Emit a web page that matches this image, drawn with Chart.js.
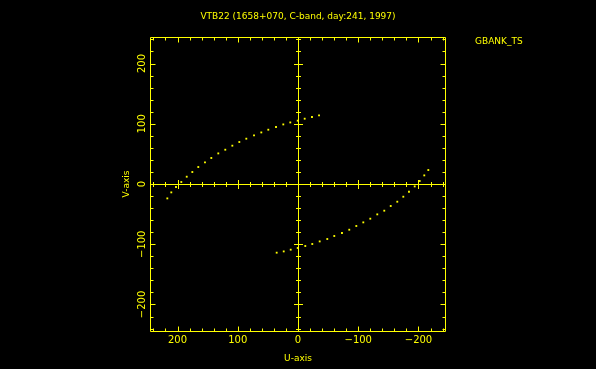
<!DOCTYPE html>
<html>
<head>
<meta charset="utf-8">
<script src="https://cdn.jsdelivr.net/npm/chart.js@4.4.0/dist/chart.umd.min.js"></script>
<style>
  html, body { margin: 0; padding: 0; background: #000; }
  #wrap { width: 596px; height: 369px; }
</style>
</head>
<body>
<div id="wrap"><canvas id="uvChart"></canvas></div>
<script>
const YEL = '#ffff00';
const FONT = 'DejaVu Sans';

// DADOS - arco superior (u, v em k-lambda)
const uArc1 = [216.9, 210.3, 202.5, 193.7, 184.7, 175.4, 165.5, 154.4, 143.9, 132.3, 120.7, 109.0,
               97.4, 85.8, 73.0, 60.9, 49.3, 36.5, 24.4, 12.8, 0.5, -11.1, -23.2, -34.9];
const vArc1 = [-23.9, -13.9, -5.0, 3.3, 12.1, 19.9, 28.2, 35.9, 43.2, 50.8, 56.9, 63.6,
               69.7, 75.2, 80.7, 85.6, 90.1, 94.6, 98.9, 102.2, 105.1, 108.4, 111.2, 113.9];
// arco inferior
const uArc2 = [35.4, 23.7, 12.1, 0.5, -12.1, -23.7, -36.0, -48.6, -60.2, -73.0, -85.1, -96.8,
               -108.4, -120.0, -131.6, -143.2, -153.9, -164.8, -174.8, -184.2, -193.7, -202.0, -209.6, -216.3];
const vArc2 = [-114.0, -111.9, -109.0, -106.2, -102.9, -99.6, -95.3, -91.3, -86.3, -81.3, -75.9, -69.7,
               -63.7, -57.6, -50.4, -44.3, -36.5, -29.4, -21.1, -12.8, -4.0, 5.0, 14.3, 23.2];

const axisMin = -244;
const axisMax = 244;
const tickVals = [-200, -100, 0, 100, 200];
const minorStep = 20;
const majorStep = 100;

const titleText = 'VTB22 (1658+070, C-band, day:241, 1997)';
const sourceText = 'GBANK_TS';

function toPoints(us, vs) { return us.map((u, i) => ({ x: u, y: vs[i] })); }
function fmt(v) { return v < 0 ? '\u2212' + Math.abs(v) : String(v); }

// eixos com ticks (moldura + cruz no zero)
const framePlugin = {
    id: 'frame',
    beforeDraw(chart) {
        const c = chart.ctx;
        c.save();
        c.fillStyle = '#000';
        c.fillRect(0, 0, chart.width, chart.height);
        c.restore();
    },
    beforeDatasetsDraw(chart) {
        const c = chart.ctx;
        const a = chart.chartArea;
        const xs = chart.scales.x, ys = chart.scales.y;
        const L = Math.round(a.left) - 0.5, R = Math.round(a.right) + 0.5;
        const T = Math.round(a.top) + 0.5, B = Math.round(a.bottom) + 0.5;
        const x0 = Math.round(xs.getPixelForValue(0)) + 0.5;
        const y0 = Math.round(ys.getPixelForValue(0)) + 0.5;
        c.save();
        c.strokeStyle = YEL;
        c.lineWidth = 1;
        c.beginPath();
        c.rect(L, T, R - L, B - T);
        c.moveTo(L, y0); c.lineTo(R, y0);
        c.moveTo(x0, T); c.lineTo(x0, B);
        for (let v = -240; v <= 240; v += minorStep) {
            const major = v % majorStep === 0;
            const fl = major ? 5 : 3;
            const hl = major ? 4.5 : 2.5;
            const px = Math.round(xs.getPixelForValue(v)) + 0.5;
            const py = Math.round(ys.getPixelForValue(v)) + 0.5;
            // moldura
            c.moveTo(px, B); c.lineTo(px, B - fl);
            c.moveTo(px, T); c.lineTo(px, T + fl);
            c.moveTo(L, py); c.lineTo(L + fl, py);
            c.moveTo(R, py); c.lineTo(R - fl, py);
            // cruz
            c.moveTo(px, y0 - hl); c.lineTo(px, y0 + hl);
            c.moveTo(x0 - hl, py); c.lineTo(x0 + hl, py);
        }
        c.stroke();
        c.fillStyle = YEL;
        c.font = '9px "' + FONT + '"';
        c.textAlign = 'left';
        c.textBaseline = 'middle';
        c.fillText(sourceText, 475, 42);
        c.restore();
    }
};

const ctx = document.getElementById('uvChart').getContext('2d');
const uvChart = new Chart(ctx, {
    type: 'scatter',
    data: {
        datasets: [
            { label: 'arc1', data: toPoints(uArc1, vArc1) },
            { label: 'arc2', data: toPoints(uArc2, vArc2) }
        ]
    },
    options: {
        responsive: true,
        maintainAspectRatio: false,
        animation: false,
        layout: { padding: 0 },
        elements: {
            point: { pointStyle: 'rect', radius: 1.3, borderWidth: 0, backgroundColor: YEL, hoverRadius: 1.3 }
        },
        plugins: {
            legend: { display: false },
            tooltip: { enabled: false },
            title: {
                display: true,
                text: titleText,
                color: YEL,
                font: { family: FONT, size: 9, weight: 'normal', lineHeight: 1.2 },
                padding: { top: 11, bottom: 15.2 }
            }
        },
        scales: {
            x: {
                type: 'linear',
                reverse: true,
                min: axisMin,
                max: axisMax,
                afterBuildTicks: s => { s.ticks = tickVals.map(v => ({ value: v })); },
                afterFit: s => { s.height = 38; },
                grid: { display: false },
                border: { display: false },
                ticks: { color: YEL, font: { family: FONT, size: 10 }, padding: -5, callback: v => fmt(v), maxRotation: 0 },
                title: { display: true, text: 'U-axis', color: YEL, font: { family: FONT, size: 9, lineHeight: 1.2 }, padding: { top: 0, bottom: 5 } }
            },
            y: {
                type: 'linear',
                min: axisMin,
                max: axisMax,
                afterBuildTicks: s => { s.ticks = tickVals.map(v => ({ value: v })); },
                afterFit: s => { s.width = 151; },
                grid: { display: false },
                border: { display: false },
                ticks: { color: YEL, font: { family: FONT, size: 10 }, padding: -13, crossAlign: 'center', minRotation: 90, maxRotation: 90, callback: v => fmt(v) },
                title: { display: true, text: 'V-axis', color: YEL, font: { family: FONT, size: 9, lineHeight: 1.2 }, padding: { top: 121, bottom: 0 } }
            },
            yR: {
                type: 'linear',
                position: 'right',
                afterFit: s => { s.width = 151; },
                grid: { display: false },
                border: { display: false },
                ticks: { display: false }
            }
        }
    },
    plugins: [framePlugin]
});
</script>
</body>
</html>
